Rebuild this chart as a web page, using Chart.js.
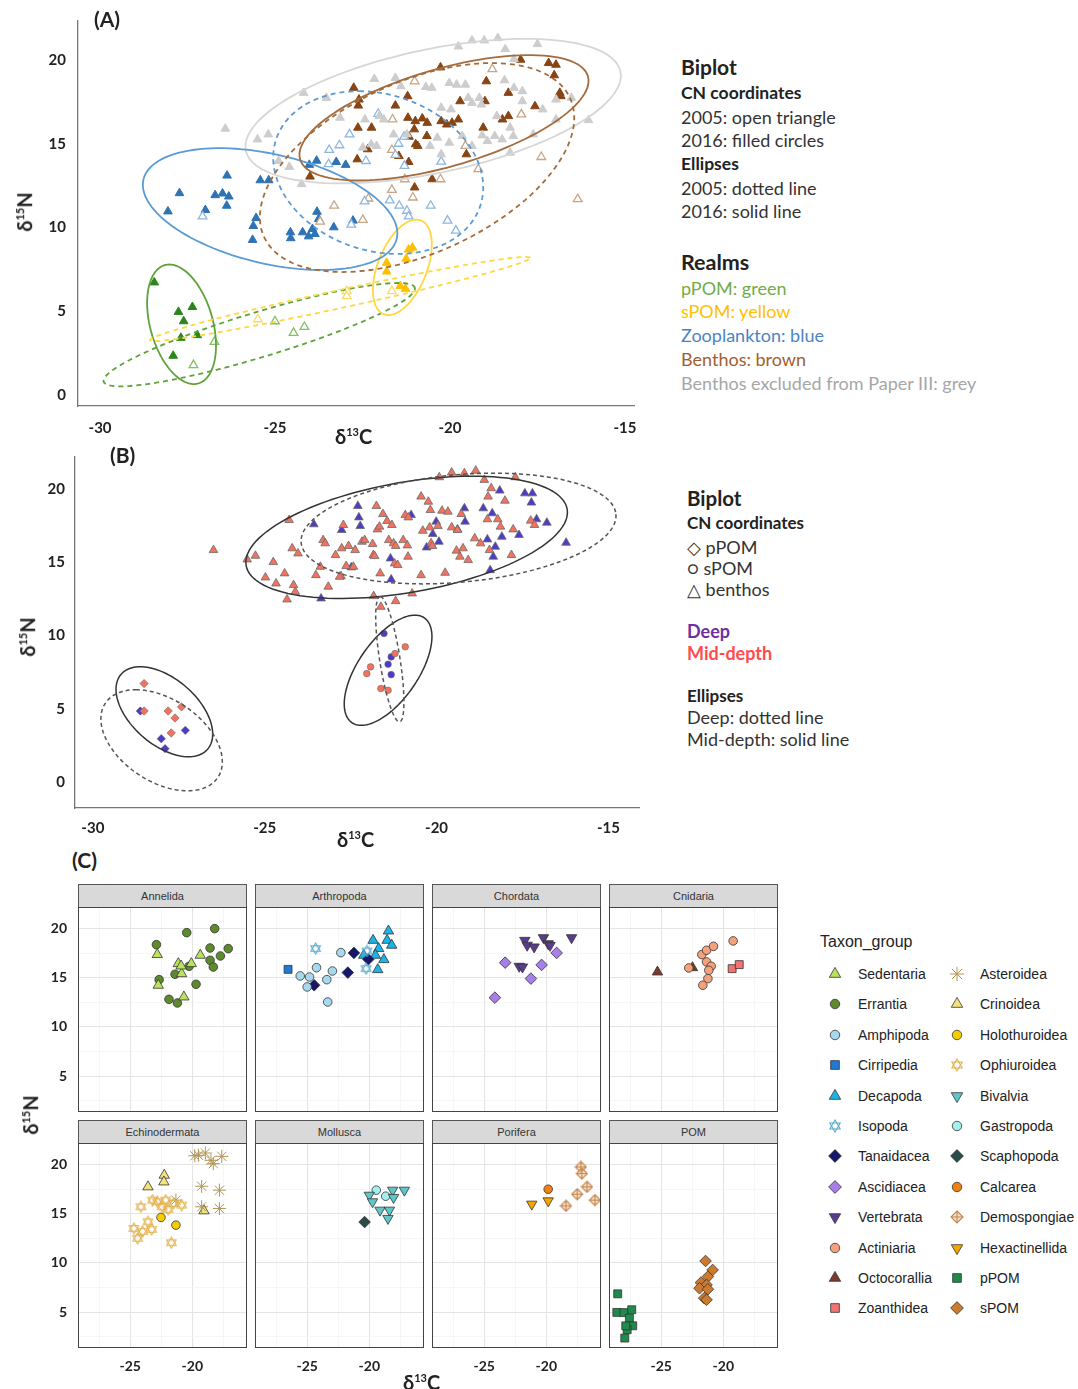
<!DOCTYPE html>
<html>
<head>
<meta charset="utf-8">
<script src="https://cdn.jsdelivr.net/npm/chart.js@4.4.1/dist/chart.umd.min.js"></script>
<style>
  body { margin: 0; background: #fff; width: 1078px; height: 1389px; position: relative; overflow: hidden; font-family: Lato, sans-serif; color: #222; }
  canvas { position: absolute; }
  .t { position: absolute; white-space: nowrap; line-height: 22px; }
  .b { font-weight: bold; }
  .strip { position: absolute; box-sizing: border-box; background: #d9d9d9; border: 1px solid #555; font: 11px "Liberation Sans", Arial, sans-serif; color: #333; text-align: center; line-height: 22px; }
  .leg { position: absolute; font: 14px "Liberation Sans", Arial, sans-serif; color: #222; white-space: nowrap; line-height: 18px; }
  .rot { transform: translate(-50%, -50%) rotate(-90deg); }
</style>
</head>
<body>
<script>
// ---------- panel A: 2005 vs 2016 realms ----------
const aGrey = [[-26.42,15.90],[-25.50,15.26],[-25.19,15.56],[-24.90,13.97],[-24.59,13.62],[-24.18,18.04],[-24.24,12.59],
  [-23.53,17.74],[-23.14,16.55],[-22.16,18.87],[-22.10,14.87],[-22.49,14.77],[-21.56,18.93],[-21.40,18.43],[-20.69,18.39],
  [-20.52,18.34],[-20.02,18.63],[-19.81,18.53],[-19.56,18.53],[-19.76,20.81],[-19.37,21.17],[-19.02,21.17],[-18.63,21.31],
  [-18.42,20.65],[-18.17,20.06],[-17.50,20.95],[-18.44,18.79],[-18.17,18.34],[-17.93,18.14],[-17.93,17.54],[-17.35,17.05],
  [-16.97,17.64],[-16.53,17.74],[-16.04,16.41],[-18.28,15.96],[-18.19,15.46],[-18.66,16.65],[-19.16,17.74],[-19.37,17.44],
  [-18.93,15.16],[-20.25,17.15],[-19.97,17.05],[-19.48,17.74],[-19.10,17.34],[-17.62,15.56],[-18.28,14.47],[-19.08,15.50],
  [-21.23,15.56],[-21.61,15.56],[-21.89,16.45],[-22.02,16.65],[-22.43,16.45],[-22.25,14.97],[-20.36,15.36],[-20.57,14.87],
  [-20.25,14.37],[-20.02,15.06],[-19.65,15.46],[-18.72,15.46],[-18.51,15.26],[-19.37,14.87],[-16.97,16.45]];
const aGreen05 = [[-27.33,1.78],[-26.73,3.17],[-25.00,4.40],[-24.47,3.71],[-24.16,4.06]];
const aGreen16 = [[-28.45,6.72],[-27.76,4.96],[-27.36,5.25],[-27.61,4.40],[-27.69,3.41],[-27.22,3.57],[-27.91,2.34]];
const aYellow05 = [[-25.49,4.52],[-22.95,6.20],[-22.95,5.90],[-21.66,6.20]];
const aYellow16 = [[-21.81,7.89],[-21.81,7.37],[-21.18,8.68],[-21.07,8.80],[-21.25,8.13],[-21.42,6.50],[-21.27,6.34]];
const aBlue05 = [[-27.07,10.66],[-22.82,10.17],[-22.05,16.79],[-22.87,15.56],[-23.16,14.91],[-23.45,14.63],[-23.47,13.78],
  [-22.40,13.97],[-21.47,15.00],[-21.31,15.42],[-21.30,13.68],[-21.56,14.33],[-22.44,11.56],[-21.72,11.62],[-21.45,11.30],
  [-21.23,11.00],[-21.18,10.66],[-20.55,11.30],[-20.25,13.93],[-20.07,10.41],[-19.83,9.81]];
const aBlue16 = [[-28.06,10.96],[-27.73,12.05],[-26.99,11.04],[-26.71,11.93],[-26.50,12.03],[-26.32,11.85],[-26.37,13.10],
  [-26.38,11.30],[-25.42,12.82],[-25.18,12.82],[-25.54,10.56],[-25.62,10.09],[-25.64,9.26],[-24.56,9.71],[-24.55,9.36],
  [-24.21,9.71],[-24.04,9.47],[-23.93,9.91],[-23.86,9.61],[-23.80,10.94],[-23.75,10.51],[-23.32,10.01],[-22.77,10.41],
  [-24.02,13.74],[-23.81,13.99],[-23.25,13.91],[-22.98,13.74]];
const aBrown05 = [[-21.01,18.73],[-18.79,19.46],[-21.64,16.45],[-21.66,14.63],[-21.29,12.88],[-21.66,12.25],[-21.06,11.79],
  [-22.33,11.73],[-23.31,11.30],[-22.49,10.45],[-23.71,10.35],[-20.27,12.88],[-19.56,14.87],[-19.19,13.48],[-17.96,16.75],
  [-17.39,14.21],[-16.35,11.69]];
const aBrown16 = [[-22.75,18.34],[-22.60,17.64],[-22.62,17.28],[-22.63,15.96],[-22.24,15.96],[-21.56,17.28],[-21.21,17.84],
  [-21.20,16.55],[-20.99,16.35],[-21.02,15.86],[-20.79,16.51],[-20.65,16.25],[-20.66,15.46],[-21.17,15.42],[-20.98,14.97],
  [-20.92,14.87],[-21.46,14.27],[-21.18,13.91],[-22.35,14.67],[-22.65,14.07],[-24.00,13.04],[-21.01,12.39],[-20.51,12.88],
  [-20.27,19.56],[-20.25,16.35],[-20.09,16.15],[-19.94,16.25],[-19.76,16.45],[-19.71,17.54],[-19.53,14.37],[-19.05,15.96],
  [-19.00,17.54],[-18.96,18.73],[-18.50,16.45],[-18.33,16.65],[-18.33,18.04],[-17.98,20.02],[-17.57,17.24],[-17.18,19.82],
  [-16.97,19.72],[-17.02,19.09],[-16.86,18.04],[-16.83,17.84]];
// ellipses: [centre x, centre y, half-axis 1 (dx, dy), half-axis 2 (dx, dy)] in data units
const ellAGrey = [-20.48, 16.95, 5.35, 2.38, 0.39, -3.6];
const ellAGreen05 = [-25.45, 3.60, 4.45, 2.75, 0, 1.4];
const ellAGreen16 = [-27.67, 4.22, -0.35, 3.57, 0.92, 0];
const ellAYellow05 = [-23.14, 5.73, 5.43, 2.45, 0, 0.55];
const ellAYellow16 = [-21.36, 7.62, 0.40, 2.85, 0.74, 0];
const ellABlue05 = [-22.05, 13.28, -0.55, 4.86, 2.95, 0];
const ellABlue16 = [-25.14, 11.10, 3.55, -0.69, -0.79, 3.57];
const ellABrown05 = [-20.94, 13.58, 2.14, 6.24, 3.95, 0];
const ellABrown16 = [-20.17, 16.55, 4.13, 2.28, -0.10, 2.97];

// ---------- panel B: deep vs mid-depth ----------
const bMidTri = [[-26.49,15.83],[-25.51,15.19],[-25.27,15.44],[-24.98,13.96],[-24.75,15.01],[-24.67,13.55],[-24.42,14.24],
  [-24.35,12.46],[-24.29,17.88],[-24.20,15.95],[-24.16,13.44],[-24.11,12.98],[-24.03,15.60],[-23.51,14.12],[-23.38,14.69],
  [-23.30,16.51],[-23.24,16.29],[-23.15,13.33],[-22.94,15.49],[-22.78,14.05],[-22.76,15.95],[-22.71,17.54],[-22.63,14.74],
  [-22.56,16.11],[-22.42,14.69],[-22.37,15.83],[-22.17,16.40],[-22.09,16.51],[-21.86,16.24],[-21.84,15.49],[-21.80,15.42],
  [-21.75,18.84],[-21.72,17.24],[-21.66,17.43],[-21.64,14.24],[-21.56,18.29],[-21.44,17.81],[-21.39,16.51],[-21.30,17.54],
  [-21.25,16.29],[-21.22,14.92],[-21.19,16.11],[-21.13,14.81],[-20.97,16.51],[-20.91,18.22],[-20.85,16.15],[-20.83,15.38],
  [-20.82,18.06],[-20.45,19.48],[-20.45,14.12],[-20.40,17.15],[-20.24,19.13],[-20.20,17.38],[-20.18,18.56],[-20.16,16.29],
  [-20.12,16.11],[-19.96,17.47],[-19.84,18.52],[-19.75,14.28],[-19.67,18.45],[-19.56,17.38],[-19.42,15.79],[-19.39,17.20],
  [-19.32,15.38],[-19.28,18.29],[-19.23,15.95],[-19.08,15.15],[-18.89,16.63],[-18.72,16.29],[-18.61,20.62],[-18.52,17.93],
  [-18.50,19.48],[-18.41,20.05],[-18.46,15.83],[-18.22,17.93],[-18.14,17.43],[-18.01,19.20],[-17.82,15.49],[-17.77,17.24],
  [-17.26,17.84],[-17.15,17.54],[-17.71,20.80],[-18.86,21.25],[-19.19,21.07],[-19.56,21.12],[-19.92,20.80],[-20.71,12.87],
  [-21.19,12.35],[-21.62,11.96],[-21.83,12.69],[-22.82,14.01]];
const bDeepTri = [[-23.57,17.59],[-23.36,12.53],[-22.76,17.20],[-22.48,14.65],[-22.29,18.84],[-22.26,18.06],[-22.22,17.47],
  [-21.34,15.26],[-21.32,13.83],[-20.74,18.22],[-20.29,16.01],[-20.11,16.93],[-20.01,17.77],[-19.93,16.40],[-19.39,17.24],
  [-19.19,18.68],[-19.17,17.77],[-18.64,18.68],[-18.52,16.56],[-18.38,18.34],[-18.35,15.38],[-18.44,14.46],[-18.29,16.06],
  [-18.16,19.89],[-18.10,16.74],[-17.60,16.86],[-17.43,19.70],[-17.21,19.70],[-17.24,19.07],[-17.09,17.93],[-16.79,17.70],
  [-16.23,16.33]];
const bMidCirc = [[-22.03,7.40],[-21.92,7.86],[-21.62,6.38],[-21.41,6.26],[-21.21,8.77],[-20.91,9.23]];
const bDeepCirc = [[-21.53,10.14],[-21.32,8.54],[-21.41,8.04],[-21.32,7.33]];
const bMidDia = [[-28.51,6.72],[-28.51,4.85],[-27.81,4.85],[-27.61,4.37],[-27.42,5.13],[-27.72,3.35]];
const bDeepDia = [[-28.62,4.85],[-28.01,2.96],[-27.31,3.53],[-27.90,2.28]];
const ellBMidTri = [-20.87, 16.70, 4.67, 1.93, 0.28, -3.7];
const ellBDeepTri = [-19.36, 17.30, 4.58, 0.97, 0.14, -3.65];
const ellBMidCirc = [-21.41, 7.63, 0.78, 3.76, 1.01, 0];
const ellBDeepCirc = [-21.36, 8.38, -0.28, 4.27, 0.3, 0];
const ellBMidDia = [-27.92, 4.80, -0.70, 3.07, 1.22, 0];
const ellBDeepDia = [-28.00, 2.85, -0.75, 3.45, 1.60, 0];

// ---------- panel C: taxon groups ----------
const sedentaria = [[-22.82,17.36],[-22.74,14.24],[-21.13,16.44],[-20.86,15.42],[-20.08,16.44],[-19.36,17.29],[-20.68,13.05],[-20.90,16.20]];
const errantia = [[-22.89,18.37],[-22.67,14.81],[-20.45,19.59],[-18.20,20.00],[-18.57,18.03],[-17.74,17.22],[-17.11,17.97],
  [-18.57,16.78],[-18.31,16.10],[-20.26,16.17],[-21.39,15.36],[-19.70,14.34],[-21.88,12.81],[-21.20,12.44]];
const isopoda = [[-24.32,17.97],[-20.19,17.73],[-20.26,15.93]];
const amphipoda = [[-22.29,17.56],[-24.25,16.03],[-25.56,15.19],[-24.81,15.08],[-22.97,15.69],[-23.42,14.81],[-25.00,14.07],[-23.35,12.54]];
const cirripedia = [[-26.54,15.86]];
const tanaidacea = [[-21.24,17.53],[-21.73,15.53],[-24.44,14.24],[-20.08,16.88]];
const decapoda = [[-18.46,19.76],[-19.70,18.81],[-18.57,18.81],[-18.20,18.31],[-19.25,17.97],[-19.51,17.29],[-18.83,16.85],[-19.32,15.83],[-20.45,17.29]];
const vertebrata = [[-21.73,18.81],[-21.54,18.31],[-20.98,18.14],[-20.23,19.08],[-19.85,18.47],[-19.70,18.30],[-17.97,19.08],[-22.18,16.17],[-21.92,16.10]];
const ascidiacea = [[-23.31,16.54],[-20.38,16.31],[-19.17,17.53],[-21.24,14.92],[-24.14,12.98]];
const octocorallia = [[-25.30,15.59],[-22.48,16.03]];
const actiniaria = [[-22.78,16.00],[-21.73,17.36],[-21.35,17.80],[-20.79,18.20],[-21.35,16.61],[-20.98,16.17],[-21.17,15.76],
  [-21.24,14.92],[-21.65,14.24],[-19.21,18.75]];
const zoanthidea = [[-19.29,15.93],[-18.72,16.34]];
const asteroidea = [[-19.51,20.95],[-18.95,21.18],[-18.50,20.44],[-18.31,20.10],[-17.63,20.84],[-19.80,20.90],[-19.25,17.80],
  [-17.82,17.40],[-19.25,15.71],[-17.82,15.54],[-21.32,16.39]];
const crinoidea = [[-23.57,17.74],[-22.26,18.92],[-22.29,18.24],[-19.06,15.30]];
const holothuroidea = [[-22.52,14.63],[-21.32,13.85]];
const ophiuroidea = [[-24.14,15.71],[-23.20,16.39],[-22.44,15.71],[-21.50,16.05],[-20.86,15.88],[-21.95,15.44],[-24.70,13.51],
  [-24.40,12.50],[-23.57,14.19],[-23.27,13.41],[-21.69,12.06],[-22.82,16.22],[-22.14,16.39],[-24.00,13.20]];
const bivalvia = [[-20.00,16.89],[-19.74,16.22],[-19.14,15.37],[-18.38,15.37],[-18.50,14.53],[-18.12,17.40],[-17.18,17.40],[-18.05,16.66]];
const gastropoda = [[-19.44,17.40],[-18.68,16.79]];
const scaphopoda = [[-20.38,14.16]];
const hexactinellida = [[-21.17,15.98],[-19.85,16.32]];
const calcarea = [[-19.85,17.50]];
const demospongiae = [[-17.22,19.76],[-17.14,19.09],[-16.73,17.74],[-17.52,16.99],[-16.09,16.39],[-18.42,15.81]];
const pPOM = [[-28.50,6.86],[-28.57,4.97],[-28.00,4.95],[-27.37,5.24],[-27.56,4.39],[-27.29,3.61],[-27.74,3.21],[-27.93,2.36],[-27.85,3.60]];
const sPOM = [[-21.43,10.20],[-20.86,9.29],[-21.24,8.61],[-21.80,8.00],[-21.35,7.77],[-21.92,7.43],[-21.24,7.33],[-21.54,6.42],[-21.35,6.25]];

const facetNames = ['Annelida', 'Arthropoda', 'Chordata', 'Cnidaria', 'Echinodermata', 'Mollusca', 'Porifera', 'POM'];
const facetTaxa = [['Sedentaria', 'Errantia'], ['Amphipoda', 'Cirripedia', 'Isopoda', 'Tanaidacea', 'Decapoda'],
  ['Ascidiacea', 'Vertebrata'], ['Actiniaria', 'Octocorallia', 'Zoanthidea'],
  ['Ophiuroidea', 'Asteroidea', 'Crinoidea', 'Holothuroidea'], ['Scaphopoda', 'Bivalvia', 'Gastropoda'],
  ['Demospongiae', 'Hexactinellida', 'Calcarea'], ['pPOM', 'sPOM']];
const legendCol1 = ['Sedentaria', 'Errantia', 'Amphipoda', 'Cirripedia', 'Decapoda', 'Isopoda', 'Tanaidacea', 'Ascidiacea', 'Vertebrata', 'Actiniaria', 'Octocorallia', 'Zoanthidea'];
const legendCol2 = ['Asteroidea', 'Crinoidea', 'Holothuroidea', 'Ophiuroidea', 'Bivalvia', 'Gastropoda', 'Scaphopoda', 'Calcarea', 'Demospongiae', 'Hexactinellida', 'pPOM', 'sPOM'];
const taxonValues = { Sedentaria: sedentaria, Errantia: errantia, Isopoda: isopoda, Amphipoda: amphipoda, Cirripedia: cirripedia,
  Tanaidacea: tanaidacea, Decapoda: decapoda, Vertebrata: vertebrata, Ascidiacea: ascidiacea, Octocorallia: octocorallia,
  Actiniaria: actiniaria, Zoanthidea: zoanthidea, Asteroidea: asteroidea, Crinoidea: crinoidea, Holothuroidea: holothuroidea,
  Ophiuroidea: ophiuroidea, Bivalvia: bivalvia, Gastropoda: gastropoda, Scaphopoda: scaphopoda, Hexactinellida: hexactinellida,
  Calcarea: calcarea, Demospongiae: demospongiae, pPOM: pPOM, sPOM: sPOM };

// ---------- styles ----------
const taxonStyle = {
  Sedentaria: ['triangle', '#b9e35c'], Errantia: ['circle', '#5f8a2c'], Amphipoda: ['circle', '#a8d8ee'],
  Cirripedia: ['rect', '#1e7ad6'], Decapoda: ['triangle', '#19b5e8'], Isopoda: ['hex', '#58aacd'],
  Tanaidacea: ['rectRot', '#16166a'], Ascidiacea: ['rectRot', '#a87fe8'], Vertebrata: ['down', '#5b3b90'],
  Actiniaria: ['circle', '#f5a27c'], Octocorallia: ['triangle', '#7b3a2b'], Zoanthidea: ['rect', '#f37272'],
  Asteroidea: ['star', '#b39555'], Crinoidea: ['triangle', '#f3e37e'], Holothuroidea: ['circle', '#f4cd00'],
  Ophiuroidea: ['hex', '#e2b24e'], Bivalvia: ['down', '#5fc7c7'], Gastropoda: ['circle', '#a2f0f0'],
  Scaphopoda: ['rectRot', '#2b4b48'], Calcarea: ['circle', '#f28010'], Demospongiae: ['demo', '#c4844a'],
  Hexactinellida: ['down', '#f6a400'], pPOM: ['rect', '#1f8a4c'], sPOM: ['rectRot', '#cc7a30']
};

Chart.defaults.font.family = 'Lato';
const xy = arr => arr.map(([x, y]) => ({ x, y }));

function el(tag, cls, left, top, html, css) {
  const d = document.createElement(tag);
  if (cls) d.className = cls;
  d.style.left = left + 'px'; d.style.top = top + 'px';
  if (html) d.innerHTML = html;
  if (css) Object.assign(d.style, css);
  document.body.appendChild(d);
  return d;
}
function makeCanvas(left, top, w, h) {
  const c = document.createElement('canvas');
  c.width = w; c.height = h;
  c.style.left = left + 'px'; c.style.top = top + 'px';
  document.body.appendChild(c);
  return c;
}

// ellipse outlines mapped through the chart's own scales
const ellipsePlugin = {
  id: 'ellipses',
  afterDatasetsDraw(chart, args, opts) {
    const { ctx, chartArea: ca, scales: { x, y } } = chart;
    ctx.save();
    ctx.beginPath(); ctx.rect(ca.left, ca.top, ca.right - ca.left, ca.bottom - ca.top); ctx.clip();
    (opts.items || []).forEach(it => {
      const [cx, cy, ax, ay, bx, by] = it.e;
      ctx.beginPath();
      for (let i = 0; i <= 120; i++) {
        const t = i / 120 * Math.PI * 2;
        const px = x.getPixelForValue(cx + Math.cos(t) * ax + Math.sin(t) * bx);
        const py = y.getPixelForValue(cy + Math.cos(t) * ay + Math.sin(t) * by);
        i ? ctx.lineTo(px, py) : ctx.moveTo(px, py);
      }
      ctx.closePath();
      ctx.strokeStyle = it.color; ctx.lineWidth = it.width;
      ctx.setLineDash(it.dash || []);
      ctx.stroke();
    });
    ctx.restore();
  }
};

const framePlugin = {
  id: 'frame',
  afterDraw(chart) {
    const { ctx, chartArea: ca } = chart;
    ctx.save();
    ctx.strokeStyle = '#444'; ctx.lineWidth = 1;
    ctx.strokeRect(Math.round(ca.left) + 0.5, Math.round(ca.top) + 0.5, Math.round(ca.right - ca.left) - 1, Math.round(ca.bottom - ca.top) - 1);
    ctx.restore();
  }
};

function biplot(canvas, datasets, ellipses, xr, yr, yW, xH, padX, padY, padRight) {
  return new Chart(canvas, {
    type: 'scatter',
    data: { datasets },
    plugins: [ellipsePlugin],
    options: {
      responsive: false, animation: false, devicePixelRatio: 1,
      layout: { padding: { right: padRight }, autoPadding: false },
      plugins: { legend: { display: false }, tooltip: { enabled: false }, ellipses: { items: ellipses } },
      scales: {
        x: {
          type: 'linear', min: xr[0], max: xr[1],
          afterFit: s => { s.height = xH; s.paddingLeft = 0; s.paddingRight = 0; },
          ticks: { stepSize: 5, includeBounds: false, padding: padX, color: '#222', font: { size: 15, weight: 'bold' } },
          grid: { drawOnChartArea: false, drawTicks: false, color: '#777' },
          border: { display: true, color: '#777', width: 1.3 }
        },
        y: {
          type: 'linear', min: yr[0], max: yr[1],
          afterFit: s => { s.width = yW; s.paddingTop = 0; s.paddingBottom = 0; },
          ticks: { stepSize: 5, includeBounds: false, padding: padY, color: '#222', font: { size: 15, weight: 'bold' } },
          grid: { drawOnChartArea: false, drawTicks: false, color: '#777' },
          border: { display: true, color: '#777', width: 1.3 }
        }
      }
    }
  });
}

function tri(label, pts, fill, stroke, r, bw) {
  return { label, data: xy(pts), pointStyle: 'triangle', radius: r, backgroundColor: fill, borderColor: stroke, borderWidth: bw };
}

// ---------- panel A ----------
const cA = makeCanvas(18, 20, 636, 421);
biplot(cA, [
  tri('grey', aGrey, '#cdcdcd', '#cdcdcd', 5, 1),
  tri('green 2005', aGreen05, '#ffffff', '#84c066', 5, 1.3),
  tri('yellow 2005', aYellow05, '#ffffff', '#ffd966', 5, 1.3),
  tri('blue 2005', aBlue05, '#ffffff', '#8db7de', 5, 1.3),
  tri('brown 2005', aBrown05, '#ffffff', '#c9a585', 5, 1.3),
  tri('green 2016', aGreen16, '#2a861c', '#2a861c', 5, 1),
  tri('yellow 2016', aYellow16, '#ffc000', '#ffc000', 5, 1),
  tri('blue 2016', aBlue16, '#2e73b4', '#2e73b4', 5, 1),
  tri('brown 2016', aBrown16, '#874414', '#874414', 5, 1)
], [
  { e: ellAGrey, color: '#d6d6d6', width: 1.8 },
  { e: ellAGreen05, color: '#5ea33a', width: 1.8, dash: [5, 4] },
  { e: ellAGreen16, color: '#5ea33a', width: 1.8 },
  { e: ellAYellow05, color: '#ffd740', width: 1.8, dash: [5, 4] },
  { e: ellAYellow16, color: '#ffd740', width: 1.8 },
  { e: ellABlue05, color: '#5b9bd5', width: 1.8, dash: [5, 4] },
  { e: ellABlue16, color: '#5b9bd5', width: 1.8 },
  { e: ellABrown05, color: '#a46b3c', width: 1.8, dash: [5, 4] },
  { e: ellABrown16, color: '#a46b3c', width: 1.8 }
], [-30.63, -14.74], [-0.66, 22.39], 60, 35, 13, 12, 20);

// ---------- panel B ----------
const cB = makeCanvas(15, 456, 625, 387);
const bStroke = '#6a6a6a';
biplot(cB, [
  tri('mid benthos', bMidTri, '#f3725f', bStroke, 5, 0.8),
  tri('deep benthos', bDeepTri, '#4d3cc6', bStroke, 5, 0.8),
  { label: 'mid sPOM', data: xy(bMidCirc), pointStyle: 'circle', radius: 3.3, backgroundColor: '#f3725f', borderColor: bStroke, borderWidth: 0.6 },
  { label: 'deep sPOM', data: xy(bDeepCirc), pointStyle: 'circle', radius: 3.3, backgroundColor: '#4d3cc6', borderColor: bStroke, borderWidth: 0.6 },
  { label: 'mid pPOM', data: xy(bMidDia), pointStyle: 'rectRot', radius: 4.2, backgroundColor: '#f3725f', borderColor: bStroke, borderWidth: 0.6 },
  { label: 'deep pPOM', data: xy(bDeepDia), pointStyle: 'rectRot', radius: 4.2, backgroundColor: '#4d3cc6', borderColor: bStroke, borderWidth: 0.6 }
], [
  { e: ellBMidTri, color: '#333', width: 1.5 },
  { e: ellBDeepTri, color: '#555', width: 1.5, dash: [4, 3] },
  { e: ellBMidCirc, color: '#333', width: 1.5 },
  { e: ellBDeepCirc, color: '#555', width: 1.5, dash: [4, 3] },
  { e: ellBMidDia, color: '#333', width: 1.5 },
  { e: ellBDeepDia, color: '#555', width: 1.5, dash: [4, 3] }
], [-30.52, -14.08], [-1.77, 22.25], 60, 35, 11, 10, 0);

// ---------- panel C ----------
function glyph(kind, color, s) {
  const c = document.createElement('canvas');
  c.width = c.height = s;
  const g = c.getContext('2d');
  const m = s / 2, r = s / 2 - 1;
  g.strokeStyle = color; g.lineWidth = 1.1;
  if (kind === 'hex') {
    [0, Math.PI].forEach(off => {
      g.beginPath();
      for (let k = 0; k < 3; k++) {
        const t = off - Math.PI / 2 + k * 2 * Math.PI / 3;
        k ? g.lineTo(m + r * Math.cos(t), m + r * Math.sin(t)) : g.moveTo(m + r * Math.cos(t), m + r * Math.sin(t));
      }
      g.closePath(); g.stroke();
    });
  } else {
    g.fillStyle = 'rgba(240,205,170,0.55)';
    g.beginPath(); g.moveTo(m, 1); g.lineTo(s - 1, m); g.lineTo(m, s - 1); g.lineTo(1, m); g.closePath();
    g.fill(); g.stroke();
    g.beginPath(); g.moveTo(m, 1); g.lineTo(m, s - 1); g.moveTo(1, m); g.lineTo(s - 1, m); g.stroke();
  }
  return c;
}
function pointOpts(name, scale) {
  const [shape, color] = taxonStyle[name];
  const k = scale || 1;
  const base = { backgroundColor: color, borderColor: '#333', borderWidth: 0.8, rotation: 0 };
  if (shape === 'triangle') return { ...base, pointStyle: 'triangle', radius: 6 * k };
  if (shape === 'down') return { ...base, pointStyle: 'triangle', rotation: 180, radius: 6 * k };
  if (shape === 'circle') return { ...base, pointStyle: 'circle', radius: 4.3 * k };
  if (shape === 'rect') return { ...base, pointStyle: 'rect', radius: 5.6 * k };
  if (shape === 'rectRot') return { ...base, pointStyle: 'rectRot', radius: 5.8 * k };
  if (shape === 'star') return { ...base, pointStyle: 'star', radius: 6.5 * k, borderColor: color, borderWidth: 1 };
  return { ...base, pointStyle: glyph(shape, color, Math.round(13 * k)), radius: 6 * k };
}

const colLeft = [78, 255, 432, 609];
const stripTop = [884, 1120];
const plotTop = [907, 1143];
const plotW = 169, plotH = 205;
const gridColor = c => (c.tick && c.tick.value % 5 === 0) ? '#e4e4e4' : '#f2f2f2';
const gridWidth = c => (c.tick && c.tick.value % 5 === 0) ? 1.1 : 0.7;

facetNames.forEach((name, i) => {
  const col = i % 4, row = Math.floor(i / 4);
  const showY = col === 0, showX = row === 1;
  const yW = showY ? 40 : 0, xH = showX ? 30 : 0;
  el('div', 'strip', colLeft[col], stripTop[row], name, { width: plotW + 'px', height: (plotTop[row] - stripTop[row] + 1) + 'px' });
  const c = makeCanvas(colLeft[col] - yW, plotTop[row], plotW + yW, plotH + xH);
  const datasets = facetTaxa[i].map(t => ({ label: t, data: xy(taxonValues[t]), ...pointOpts(t) }));
  new Chart(c, {
    type: 'scatter',
    data: { datasets },
    plugins: [framePlugin],
    options: {
      responsive: false, animation: false, devicePixelRatio: 1,
      layout: { padding: 0, autoPadding: false },
      plugins: { legend: { display: false }, tooltip: { enabled: false } },
      scales: {
        x: {
          type: 'linear', min: -29.2, max: -15.6,
          afterFit: s => { s.height = xH; s.paddingLeft = 0; s.paddingRight = 0; },
          ticks: { display: showX, stepSize: 2.5, includeBounds: false, autoSkip: false, padding: 10, color: '#222',
            font: { size: 14, weight: 'bold' }, callback: v => (v % 5 === 0 ? v : '') },
          grid: { drawTicks: false, color: gridColor, lineWidth: gridWidth },
          border: { display: false }
        },
        y: {
          type: 'linear', min: 1.35, max: 22.2,
          afterFit: s => { s.width = yW; s.paddingTop = 0; s.paddingBottom = 0; },
          ticks: { display: showY, stepSize: 2.5, includeBounds: false, autoSkip: false, padding: 11, color: '#222',
            font: { size: 14, weight: 'bold' }, callback: v => (v % 5 === 0 ? v : '') },
          grid: { drawTicks: false, color: gridColor, lineWidth: gridWidth },
          border: { display: false }
        }
      }
    }
  });
});

// legend for panel C (symbols drawn with Chart.js point helper)
el('div', 'leg', 820, 933, 'Taxon_group', { fontSize: '16px' });
[[legendCol1, 835, 858], [legendCol2, 957, 980]].forEach(([names, sx, tx]) => {
  names.forEach((n, r) => {
    const cy = 974 + r * 30.4;
    const sc = makeCanvas(sx - 10, Math.round(cy - 10), 20, 20);
    const g = sc.getContext('2d');
    const o = pointOpts(n, 1.1);
    g.fillStyle = o.backgroundColor; g.strokeStyle = o.borderColor; g.lineWidth = o.borderWidth;
    Chart.helpers.drawPoint(g, { pointStyle: o.pointStyle, rotation: o.rotation, radius: o.radius, borderWidth: o.borderWidth }, 10, 10);
    el('div', 'leg', tx, Math.round(cy - 9), n);
  });
});

// ---------- text ----------
el('div', 't b', 94, 8, '(A)', { fontSize: '21px' });
el('div', 't b', 110, 444, '(B)', { fontSize: '21px' });
el('div', 't b', 72, 849, '(C)', { fontSize: '21px' });

const sup = n => '<sup style="font-size:11px">' + n + '</sup>';
el('div', 't b', 335, 421, 'δ' + sup(13) + 'C', { fontSize: '20px' });
el('div', 't b rot', 22, 212, 'δ' + sup(15) + 'N', { fontSize: '20px' });
el('div', 't b', 337, 824, 'δ' + sup(13) + 'C', { fontSize: '20px' });
el('div', 't b rot', 25, 637, 'δ' + sup(15) + 'N', { fontSize: '20px' });
el('div', 't b', 403, 1367, 'δ' + sup(13) + 'C', { fontSize: '20px' });
el('div', 't b rot', 28, 1115, 'δ' + sup(15) + 'N', { fontSize: '20px' });

const legA = [
  [56, 'Biplot', 'b', 21, '#222'], [82, 'CN coordinates', 'b', 17.5, '#222'],
  [106, '2005: open triangle', '', 18, '#333'], [129, '2016: filled circles', '', 18, '#333'],
  [153, 'Ellipses', 'b', 17.5, '#222'], [177, '2005: dotted line', '', 18, '#333'], [200, '2016: solid line', '', 18, '#333'],
  [251, 'Realms', 'b', 21.5, '#222'], [277, 'pPOM: green', '', 18, '#70ad47'], [300, 'sPOM: yellow', '', 18, '#ffc000'],
  [324, 'Zooplankton: blue', '', 18, '#4a84c6'], [348, 'Benthos: brown', '', 18, '#a0602e'],
  [372, 'Benthos excluded from Paper III: grey', '', 18, '#a6a6a6']
];
legA.forEach(([top, txt, cls, fs, col]) => el('div', 't ' + cls, 681, top, txt, { fontSize: fs + 'px', color: col }));

const legB = [
  [487, 'Biplot', 'b', 20.5, '#222'], [512, 'CN coordinates', 'b', 17, '#222'],
  [536, '◇ pPOM', '', 18, '#333'], [557, '○ sPOM', '', 18, '#333'], [578, '△ benthos', '', 18, '#333'],
  [620, 'Deep', 'b', 18, '#7030a0'], [642, 'Mid-depth', 'b', 18, '#ff4b4b'],
  [685, 'Ellipses', 'b', 17, '#222'], [706, 'Deep: dotted line', '', 18, '#333'], [728, 'Mid-depth: solid line', '', 18, '#333']
];
legB.forEach(([top, txt, cls, fs, col]) => el('div', 't ' + cls, 687, top, txt, { fontSize: fs + 'px', color: col }));
</script>
</body>
</html>
